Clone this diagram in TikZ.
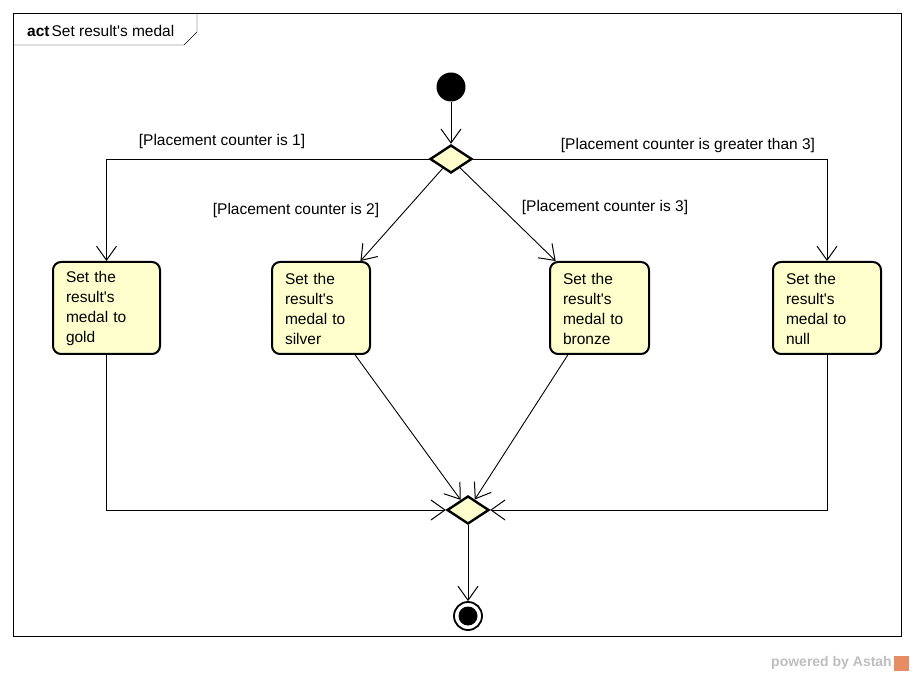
\documentclass[tikz,border=0pt]{standalone}
\usepackage{fontspec}
\setmainfont{Liberation Sans}
\usepackage{xcolor}
\usetikzlibrary{shapes.geometric,arrows.meta}
\definecolor{actfill}{RGB}{255,255,206}
\definecolor{astahgray}{RGB}{190,190,190}
\definecolor{astahorange}{RGB}{232,140,100}

\begin{document}
\begin{tikzpicture}[x=1pt,y=-1pt,
  every node/.style={font=\fontsize{15.5}{20}\selectfont},
  action/.style={rectangle, rounded corners=8pt, draw, line width=2pt, fill=actfill, minimum height=92pt, inner xsep=13pt, inner ysep=0pt, align=left},
  decision/.style={diamond, draw, line width=2.4pt, fill=actfill, minimum width=42pt, minimum height=28pt, inner sep=0pt},
  flow/.style={-{Straight Barb[length=14pt,width=20pt,line width=1pt]}, line width=0.9pt},
  guard/.style={inner sep=0pt}]
\useasboundingbox (0,0) rectangle (914,676);
\fill[white] (0,0) rectangle (914,676);

% frame
\draw (13,13) rectangle (901,636);
\draw (13,45) -- (184,45) -- (197,32) -- (197,13);
\node[anchor=base west, inner sep=0pt] (title) at (27,37) {\textbf{act}\hspace{2pt}Set result\textquotesingle s medal};

\node[circle, fill, inner sep=0pt, minimum size=29pt] (start) at (451,87) {};
\node[decision] (dec1) at (451,159) {};

\node[action, text width=81pt] (gold) at (106.5,308) {\rule{0pt}{13pt}Set the\\result\textquotesingle s\\medal to\\gold};
\node[action, text width=72pt] (silver) at (321,308) {\rule{0pt}{13pt}Set the\\result\textquotesingle s\\medal to\\silver};
\node[action, text width=73pt] (bronze) at (599.5,308) {\rule{0pt}{13pt}Set the\\result\textquotesingle s\\medal to\\bronze};
\node[action, text width=82pt] (null) at (827,308) {\rule{0pt}{13pt}Set the\\result\textquotesingle s\\medal to\\null};

\node[decision] (merge) at (468,510) {};
\node[circle, draw, line width=1.8pt, fill=white, inner sep=0pt, minimum size=28pt] (final) at (468,616) {};
\node[circle, fill, inner sep=0pt, minimum size=19pt] (finaldot) at (468,616) {};

\draw[flow] (start) -- (dec1);
\draw[flow] (dec1.west) -| (gold.north);
\draw[flow] (dec1.east) -| (null.north);
\draw[flow] (dec1) -- (silver.50);
\draw[flow] (dec1) -- (bronze.133);

\draw[flow] (gold.south) |- (merge.west);
\draw[flow] (silver.-54) -- (merge);
\draw[flow] (bronze.-124) -- (merge);
\draw[flow] (null.south) |- (merge.east);
\draw[flow] (merge) -- (final);

\node[guard] (g1) at (222,141) {[Placement counter is 1]};
\node[guard] (g2) at (296,210) {[Placement counter is 2]};
\node[guard] (g3) at (605,207) {[Placement counter is 3]};
\node[guard] (g4) at (688,145) {[Placement counter is greater than 3]};

\node[anchor=east, inner sep=0pt, text=astahgray, font=\bfseries\fontsize{14}{14}\selectfont] (powered) at (892,663) {powered by Astah};
\node[fill=astahorange, inner sep=0pt, minimum size=15pt] (logo) at (901,663) {};
\end{tikzpicture}
\end{document}
